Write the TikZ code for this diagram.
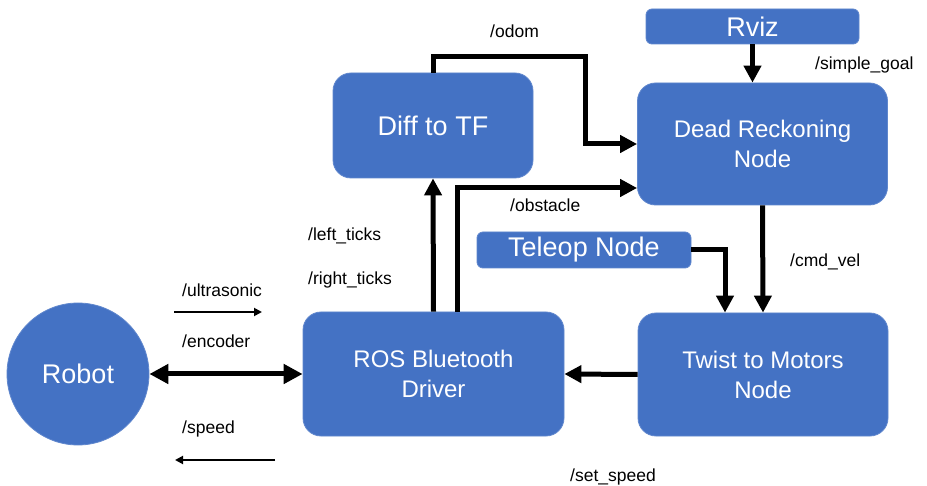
\documentclass[tikz,border=0pt]{standalone}
\usepackage{fontspec}
\setmainfont{Liberation Sans}
\usetikzlibrary{arrows.meta,calc}
\definecolor{boxblue}{HTML}{4472C4}
\begin{document}
\begin{tikzpicture}[x=1pt,y=-1pt,
  bigbox/.style={rectangle,rounded corners=18pt,fill=boxblue,draw=boxblue!85!white,line width=0.8pt,text=white,inner sep=0pt,align=center,font=\fontsize{24}{30}\selectfont},
  smallbox/.style={rectangle,rounded corners=6pt,fill=boxblue,draw=boxblue!85!white,line width=0.8pt,text=white,inner sep=0pt,align=center,font=\fontsize{27}{30}\selectfont},
  bigarrow/.style={line width=5pt,-{Triangle[length=17pt,width=17pt]}},
  dblarrow/.style={line width=5pt,{Triangle[length=19pt,width=19pt]}-{Triangle[length=19pt,width=19pt]}},
  thinarrow/.style={line width=1.8pt,-{Triangle[length=8pt,width=8pt]}},
  lbl/.style={anchor=base west,inner sep=0pt,font=\fontsize{17.5}{20}\selectfont}]
\useasboundingbox (0,0) rectangle (927,486);
\fill[white] (0,0) rectangle (927,486);

% nodes
\node[circle,fill=boxblue,draw=boxblue!85!white,line width=0.8pt,text=white,inner sep=0pt,minimum size=142pt,font=\fontsize{27}{30}\selectfont] (robot) at (78,374) {Robot};
\node[bigbox,minimum width=261pt,minimum height=124pt] (ros) at (433.5,374) {ROS Bluetooth\\Driver};
\node[bigbox,minimum width=250pt,minimum height=123pt] (twist) at (763,374.5) {Twist to Motors\\Node};
\node[bigbox,minimum width=250pt,minimum height=122pt] (dr) at (762.5,144) {Dead Reckoning\\Node};
\node[bigbox,minimum width=200pt,minimum height=105pt,font=\fontsize{27}{30}\selectfont] (diff) at (433,125.5) {Diff to TF};
\node[smallbox,minimum width=213pt,minimum height=35pt] (rviz) at (752.5,26.5) {Rviz};
\node[smallbox,minimum width=214pt,minimum height=36pt] (teleop) at (584,250) {Teleop Node};

% connectors
\draw[dblarrow] (robot.east) -- (ros.west);
\draw[bigarrow] (ros.north) -- (diff.south);
\draw[bigarrow] (diff.north) |- (585,57) |- (dr.west);
\draw[bigarrow] ([xshift=24pt]ros.north) |- ([yshift=-44pt]dr.west);
\draw[bigarrow] (dr.south) -- (twist.north);
\draw[bigarrow] (teleop.east) -| ([xshift=-38pt]twist.north);
\draw[bigarrow] (twist.west) -- (ros.east);
\draw[bigarrow] (rviz.south) -- (rviz.south |- dr.north);

\coordinate (u1) at (174,312);
\coordinate (u2) at (262,312);
\coordinate (s1) at (275,460);
\coordinate (s2) at (175,460);
\draw[thinarrow] (u1) -- (u2);
\draw[thinarrow] (s1) -- (s2);

% labels
\node[lbl] (lu) at (182,297) {/ultrasonic};
\node[lbl] (le) at (182,348) {/encoder};
\node[lbl] (ls) at (182,434) {/speed};
\node[lbl] (llt) at (308,241) {/left\_ticks};
\node[lbl] (lrt) at (308,285) {/right\_ticks};
\node[lbl] (lo) at (490,38) {/odom};
\node[lbl] (lob) at (510,212) {/obstacle};
\node[lbl] (lc) at (790,267) {/cmd\_vel};
\node[lbl] (lss) at (570,481) {/set\_speed};
\node[lbl] (lsg) at (815,70) {/simple\_goal};
\end{tikzpicture}
\end{document}
